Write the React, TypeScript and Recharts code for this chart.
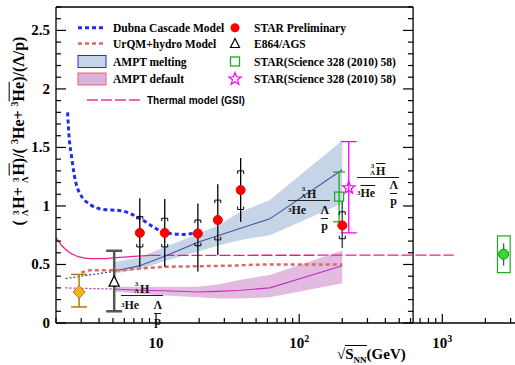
import React from "react";
import {
  Area,
  ComposedChart,
  ErrorBar,
  Line,
  ReferenceArea,
  ReferenceLine,
  Scatter,
  XAxis,
  YAxis,
} from "recharts";

const SERIF = "'Liberation Serif', 'Times New Roman', serif";
const SANS = "'Liberation Sans', Arial, sans-serif";

// axes
const xTicks = [2, 3, 4, 5, 6, 7, 8, 9, 10, 20, 30, 40, 50, 60, 70, 80, 90, 100, 200, 300, 400, 500, 600, 700, 800, 900, 1000, 2000, 3000];
const yTicks = [0, 0.1, 0.2, 0.3, 0.4, 0.5, 0.6, 0.7, 0.8, 0.9, 1, 1.1, 1.2, 1.3, 1.4, 1.5, 1.6, 1.7, 1.8, 1.9, 2, 2.1, 2.2, 2.3, 2.4, 2.5, 2.6, 2.7];
const frameEdge = 625; // inner frame right edge (GeV)

// Dubna cascade model
const dubnaX = [2.41, 2.48, 2.55, 2.67, 2.8, 2.96, 3.48, 4.3, 5.65, 7.8, 9.6, 11.6, 15.6, 18.3];
const dubnaY = [1.8, 1.56, 1.45, 1.28, 1.165, 1.1, 1.01, 0.97, 0.96, 0.89, 0.82, 0.77, 0.757, 0.765];

// UrQMD + hydro
const urqmdX = [3.0, 3.5, 5, 7.7, 11.5, 20, 33, 62.4, 200];
const urqmdY = [0.43, 0.45, 0.45, 0.465, 0.48, 0.485, 0.49, 0.5, 0.5];

// AMPT
const amptX = [5, 7.7, 11.5, 19.6, 27, 39, 62.4, 200];
const meltY = [0.44, 0.49, 0.57, 0.69, 0.745, 0.81, 0.89, 1.31];
const meltLo = [0.42, 0.46, 0.53, 0.61, 0.66, 0.71, 0.75, 1.02];
const meltHi = [0.52, 0.56, 0.65, 0.76, 0.83, 0.95, 1.05, 1.56];
const defY = [0.29, 0.28, 0.275, 0.265, 0.27, 0.28, 0.3, 0.49];
const defLo = [0.27, 0.25, 0.235, 0.22, 0.21, 0.21, 0.22, 0.34];
const defHi = [0.31, 0.31, 0.31, 0.31, 0.33, 0.37, 0.41, 0.62];
const extX = [2.33, 5];
const meltExtY = [0.38, 0.44];
const defExtY = [0.3, 0.29];

// thermal model (GSI)
const thermSolidX = [2.0, 2.2, 2.5, 2.9, 3.5, 4.3, 5.5, 7, 9];
const thermSolidY = [0.73, 0.66, 0.6, 0.565, 0.55, 0.55, 0.56, 0.57, 0.578];
const thermDashX = [9, 1200];
const thermDashY = [0.578, 0.58];

// STAR preliminary
const prelimX = [7.7, 11.5, 19.6, 27, 39];
const prelimY = [0.77, 0.77, 0.765, 0.88, 1.136];
const prelimLo = [0.48, 0.48, 0.44, 0.58, 0.865];
const prelimHi = [1.065, 1.06, 1.02, 1.185, 1.41];
const prelimSysLo = [0.65, 0.65, 0.66, 0.71, 0.97];
const prelimSysHi = [0.91, 0.895, 0.88, 1.05, 1.3];
const p200X = [200];
const p200Y = [0.834];
const p200Lo = [0.64];
const p200Hi = [1.04];
const p200SysLo = [0.72];
const p200SysHi = [0.95];

// E864/AGS
const e864X = [5.1];
const e864Y = [0.35];
const e864Lo = [0.1];
const e864Hi = [0.617];

// diamond point
const diaX = [2.9];
const diaY = [0.265];
const diaLo = [0.137];
const diaHi = [0.415];

// STAR Science 328 (2010) 58
const sciSqX = [190];
const sciSqY = [1.08];
const sciSqLo = [0.865];
const sciSqHi = [1.29];
const sciStarX = [222];
const sciStarY = [1.155];
const sciStarLo = [0.77];
const sciStarHi = [1.55];

// green point at high energy
const lhcX = [2680];
const lhcY = [0.588];
const lhcLo = [0.49];
const lhcHi = [0.68];
const lhcSysX = [2430, 2980];
const lhcSysY = [0.43, 0.745];

const pts = (xs: number[], ys: number[]) => xs.map((x, i) => ({ x, y: ys[i] }));
const errPts = (xs: number[], ys: number[], lo: number[], hi: number[]) =>
  xs.map((x, i) => ({ x, y: ys[i], err: [ys[i] - lo[i], hi[i] - ys[i]] }));
const band = (xs: number[], lo: number[], hi: number[]) => xs.map((x, i) => ({ x, range: [lo[i], hi[i]] }));

const starPath = (cx: number, cy: number, R: number, r: number) => {
  let d = "";
  for (let i = 0; i < 10; i++) {
    const a = -Math.PI / 2 + (i * Math.PI) / 5;
    const rr = i % 2 === 0 ? R : r;
    d += (i === 0 ? "M" : "L") + (cx + rr * Math.cos(a)).toFixed(2) + "," + (cy + rr * Math.sin(a)).toFixed(2);
  }
  return d + "Z";
};

const redDot = (p: any) => <circle cx={p.cx} cy={p.cy} r={4.5} fill="#ff0000" stroke="#ee0000" />;
const greenDot = (p: any) => <circle cx={p.cx} cy={p.cy} r={5} fill="#33dd33" stroke="#118811" />;
const triangle = (p: any) => (
  <path d={`M${p.cx},${p.cy - 6}L${p.cx + 5},${p.cy + 4}L${p.cx - 5},${p.cy + 4}Z`} fill="#fff" stroke="#000" strokeWidth={1.3} />
);
const diamond = (p: any) => (
  <path d={`M${p.cx},${p.cy - 6.5}L${p.cx + 6},${p.cy}L${p.cx},${p.cy + 6.5}L${p.cx - 6},${p.cy}Z`} fill="#f4b414" stroke="#b07d12" strokeWidth={1} />
);
const square = (p: any) => <rect x={p.cx - 4.5} y={p.cy - 4.5} width={9} height={9} fill="none" stroke="#22aa22" strokeWidth={1.3} />;
const magStar = (p: any) => <path d={starPath(p.cx, p.cy, 6.5, 2.7)} fill="none" stroke="#ff00ff" strokeWidth={1.2} />;
const bracket = (up: boolean) => (p: any) => {
  const { cx, cy } = p;
  const d = up ? `M${cx - 3},${cy + 3}V${cy}H${cx + 3}V${cy + 3}` : `M${cx - 3},${cy - 3}V${cy}H${cx + 3}V${cy - 3}`;
  return <path d={d} fill="none" stroke="#000" strokeWidth={1} />;
};

const isMajorX = (v: number) => v === 10 || v === 100 || v === 1000;

const XTick = (props: any) => {
  const { x, y, payload } = props;
  const v = payload.value;
  const major = isMajorX(v);
  return (
    <g>
      <line x1={x} x2={x} y1={y} y2={y - (major ? 9 : 5)} stroke="#000" strokeWidth={1.2} />
      {major && (
        <text x={x} y={y + 25} textAnchor="middle" fontFamily={SERIF} fontWeight="bold" fontSize={15} fill="#000">
          10
          {v > 10 && (
            <tspan dy={-6} fontSize={10}>
              {v === 100 ? "2" : "3"}
            </tspan>
          )}
        </text>
      )}
    </g>
  );
};

const TopTick = (props: any) => {
  const { x, y, payload } = props;
  const v = payload.value;
  return <line x1={x} x2={x} y1={y} y2={y + (isMajorX(v) ? 9 : 5)} stroke="#000" strokeWidth={1.2} />;
};

const isMajorY = (v: number) => Math.abs(v * 2 - Math.round(v * 2)) < 1e-6;

const YTick = (props: any) => {
  const { x, y, payload } = props;
  const v = payload.value;
  const major = isMajorY(v);
  return (
    <g>
      <line x1={x} x2={x + (major ? 10 : 5)} y1={y} y2={y} stroke="#000" strokeWidth={1.2} />
      {major && v < 2.6 && (
        <text x={x - 6} y={y + 5} textAnchor="end" fontFamily={SERIF} fontWeight="bold" fontSize={15} fill="#000">
          {String(v)}
        </text>
      )}
    </g>
  );
};

const ov = (on: boolean) => (on ? { textDecoration: "overline" } : {});

const Pre = ({ fs = 7 }: { fs?: number }) => (
  <span
    style={{
      display: "inline-flex",
      flexDirection: "column",
      alignItems: "center",
      fontSize: fs,
      lineHeight: `${fs}px`,
      marginRight: 1,
      verticalAlign: "middle",
    }}
  >
    <span>3</span>
    <span>Λ</span>
  </span>
);

const Frac = ({ left, top, anti }: { left: number; top: number; anti: boolean }) => (
  <div style={{ position: "absolute", left, top: top - 15, width: 42, font: `bold 12px ${SERIF}`, lineHeight: "12px", color: "#111" }}>
    <div style={{ paddingLeft: 13, height: 14, display: "flex", alignItems: "flex-end" }}>
      <Pre />
      <span style={ov(anti)}>H</span>
    </div>
    <div style={{ borderTop: "1.3px solid #222" }} />
    <div style={{ display: "flex", justifyContent: "space-between", marginTop: anti ? 1 : 3 }}>
      <span style={{ marginTop: anti ? 8 : 0 }}>
        <span style={{ fontSize: 7, verticalAlign: "top" }}>3</span>
        <span style={ov(anti)}>He</span>
      </span>
      <span style={{ display: "inline-flex", flexDirection: "column", alignItems: "center", marginRight: 1 }}>
        <span style={ov(anti)}>Λ</span>
        <span style={{ borderTop: "1px solid #222", marginTop: 2, paddingTop: 1 }}>
          <span style={ov(anti)}>p</span>
        </span>
      </span>
    </div>
  </div>
);

const Legend = () => (
  <svg width={515} height={365} style={{ position: "absolute", left: 0, top: 0, pointerEvents: "none" }}>
    <g fontFamily={SERIF} fontWeight="bold" fontSize={11.5} fill="#000">
      <line x1={78} x2={105} y1={27.7} y2={27.7} stroke="#1f2cf5" strokeWidth={3} strokeDasharray="4 3" />
      <text x={113} y={31.7}>Dubna Cascade Model</text>
      <line x1={78} x2={105} y1={43.5} y2={43.5} stroke="#d96a6a" strokeWidth={2.5} strokeDasharray="4 3" />
      <text x={113} y={47.5}>UrQM+hydro Model</text>
      <rect x={78} y={55.5} width={28} height={12} fill="#c5d4e6" stroke="#2233dd" />
      <text x={113} y={65.5}>AMPT melting</text>
      <rect x={78} y={73} width={28} height={12} fill="#dcb3dc" stroke="#e06a6a" />
      <text x={113} y={83}>AMPT default</text>
      <circle cx={235} cy={27.7} r={4.5} fill="#ff0000" />
      <text x={254} y={31.7}>STAR Preliminary</text>
      <path d="M235,38.5L239.5,47.5L230.5,47.5Z" fill="#fff" stroke="#000" strokeWidth={1.2} />
      <text x={254} y={47.5}>E864/AGS</text>
      <rect x={230.5} y={57} width={9} height={9} fill="none" stroke="#22aa22" strokeWidth={1.3} />
      <text x={254} y={65.5}>STAR(Science 328 (2010) 58)</text>
      <path d={starPath(235, 79, 6.5, 2.7)} fill="none" stroke="#ff00ff" strokeWidth={1.2} />
      <text x={254} y={83}>STAR(Science 328 (2010) 58)</text>
    </g>
    <line x1={87} x2={143} y1={100} y2={100} stroke="#ee3399" strokeWidth={1.3} strokeDasharray="11 3" />
    <text x={147} y={103.5} fontFamily={SANS} fontWeight="bold" fontSize={10} fill="#000">
      Thermal model (GSI)
    </text>
  </svg>
);

export default function App() {
  return (
    <div style={{ position: "absolute", left: 0, top: 0, width: 515, height: 365, background: "#fff" }}>
      <ComposedChart width={515} height={365} margin={{ top: 7, right: 0, bottom: 0, left: 0 }}>
        <XAxis
          xAxisId={0}
          dataKey="x"
          type="number"
          scale="log"
          domain={[2, 3220]}
          allowDataOverflow
          ticks={xTicks}
          interval={0}
          tick={XTick}
          tickLine={false}
          tickSize={0}
          tickMargin={0}
          height={42}
          axisLine={{ stroke: "#000", strokeWidth: 1.3 }}
        />
        <XAxis
          xAxisId="top"
          orientation="top"
          dataKey="x"
          type="number"
          scale="log"
          domain={[2, 3220]}
          allowDataOverflow
          ticks={xTicks.filter((v) => v <= frameEdge)}
          interval={0}
          tick={TopTick}
          tickLine={false}
          tickSize={0}
          tickMargin={0}
          height={0}
          axisLine={false}
        />
        <YAxis
          type="number"
          domain={[0, 2.7]}
          allowDataOverflow
          ticks={yTicks}
          interval={0}
          tick={YTick}
          tickLine={false}
          tickSize={0}
          tickMargin={0}
          width={56}
          axisLine={{ stroke: "#000", strokeWidth: 1.3 }}
        />

        <ReferenceLine x={frameEdge} stroke="#000" strokeWidth={1.3} ifOverflow="visible" />
        <ReferenceLine segment={[{ x: 2, y: 2.7 }, { x: frameEdge, y: 2.7 }]} stroke="#000" strokeWidth={1.3} ifOverflow="visible" />
        {yTicks.map((v) => (
          <ReferenceLine
            key={"rt" + v}
            segment={[{ x: frameEdge * (isMajorY(v) ? 0.85 : 0.92), y: v }, { x: frameEdge, y: v }]}
            stroke="#000"
            strokeWidth={1.2}
            ifOverflow="visible"
          />
        ))}

        <Area data={band(amptX, meltLo, meltHi)} dataKey="range" type="linear" fill="#c5d4e6" fillOpacity={1} stroke="none" isAnimationActive={false} />
        <Area data={band(amptX, defLo, defHi)} dataKey="range" type="linear" fill="#e3bbe0" fillOpacity={1} stroke="none" isAnimationActive={false} />

        <Line data={pts(thermSolidX, thermSolidY)} dataKey="y" type="monotone" stroke="#ee2090" strokeWidth={1.2} dot={false} activeDot={false} isAnimationActive={false} />
        <Line data={pts(thermDashX, thermDashY)} dataKey="y" type="linear" stroke="#ee1a8c" strokeWidth={1.3} strokeDasharray="11 3" dot={false} activeDot={false} isAnimationActive={false} />
        <Line data={pts(amptX, meltY)} dataKey="y" type="linear" stroke="#5050a0" strokeWidth={1.1} dot={false} activeDot={false} isAnimationActive={false} />
        <Line data={pts(extX, meltExtY)} dataKey="y" type="linear" stroke="#5050a0" strokeWidth={1.3} strokeDasharray="2 2" dot={false} activeDot={false} isAnimationActive={false} />
        <Line data={pts(amptX, defY)} dataKey="y" type="linear" stroke="#c030c0" strokeWidth={1.1} dot={false} activeDot={false} isAnimationActive={false} />
        <Line data={pts(extX, defExtY)} dataKey="y" type="linear" stroke="#c030c0" strokeWidth={1.3} strokeDasharray="2 2" dot={false} activeDot={false} isAnimationActive={false} />
        <Line data={pts(urqmdX, urqmdY)} dataKey="y" type="monotone" stroke="#d96a6a" strokeWidth={2.5} strokeDasharray="4 3" dot={false} activeDot={false} isAnimationActive={false} />
        <Line data={pts(dubnaX, dubnaY)} dataKey="y" type="monotone" stroke="#1f2cf5" strokeWidth={3} strokeDasharray="4 3" dot={false} activeDot={false} isAnimationActive={false} />

        <ReferenceArea x1={lhcSysX[0]} x2={lhcSysX[1]} y1={lhcSysY[0]} y2={lhcSysY[1]} fill="none" stroke="#22aa22" strokeWidth={1.2} ifOverflow="visible" />

        <Scatter data={errPts(diaX, diaY, diaLo, diaHi)} dataKey="y" shape={diamond} isAnimationActive={false}>
          <ErrorBar dataKey="err" direction="y" width={8} stroke="#b07d12" strokeWidth={1.5} />
        </Scatter>
        <Scatter data={errPts(e864X, e864Y, e864Lo, e864Hi)} dataKey="y" shape={triangle} isAnimationActive={false}>
          <ErrorBar dataKey="err" direction="y" width={8} stroke="#555" strokeWidth={2.5} />
        </Scatter>
        <Scatter data={errPts(sciStarX, sciStarY, sciStarLo, sciStarHi)} dataKey="y" shape={magStar} isAnimationActive={false}>
          <ErrorBar dataKey="err" direction="y" width={8} stroke="#ff00ff" strokeWidth={1.3} />
        </Scatter>
        <Scatter data={errPts(p200X, p200Y, p200Lo, p200Hi)} dataKey="y" shape={redDot} isAnimationActive={false}>
          <ErrorBar dataKey="err" direction="y" width={0} stroke="#555" strokeWidth={1.6} />
        </Scatter>
        <Scatter data={pts(p200X, p200SysHi)} dataKey="y" shape={bracket(true)} isAnimationActive={false} />
        <Scatter data={pts(p200X, p200SysLo)} dataKey="y" shape={bracket(false)} isAnimationActive={false} />
        <Scatter data={errPts(sciSqX, sciSqY, sciSqLo, sciSqHi)} dataKey="y" shape={square} isAnimationActive={false}>
          <ErrorBar dataKey="err" direction="y" width={6} stroke="#22aa22" strokeWidth={1.3} />
        </Scatter>
        <Scatter data={pts(prelimX, prelimSysHi)} dataKey="y" shape={bracket(true)} isAnimationActive={false} />
        <Scatter data={pts(prelimX, prelimSysLo)} dataKey="y" shape={bracket(false)} isAnimationActive={false} />
        <Scatter data={errPts(prelimX, prelimY, prelimLo, prelimHi)} dataKey="y" shape={redDot} isAnimationActive={false}>
          <ErrorBar dataKey="err" direction="y" width={0} stroke="#000" strokeWidth={1.3} />
        </Scatter>
        <Scatter data={errPts(lhcX, lhcY, lhcLo, lhcHi)} dataKey="y" shape={greenDot} isAnimationActive={false}>
          <ErrorBar dataKey="err" direction="y" width={0} stroke="#118811" strokeWidth={1.3} />
        </Scatter>
      </ComposedChart>

      <Legend />

      <Frac left={121} top={296} anti={false} />
      <Frac left={288} top={201} anti={false} />
      <Frac left={357} top={178} anti={true} />

      <div
        style={{
          position: "absolute",
          left: 19,
          top: 131,
          transform: "translate(-50%,-50%) rotate(-90deg)",
          whiteSpace: "nowrap",
          font: `bold 16px ${SERIF}`,
          color: "#000",
        }}
      >
        ( <Pre fs={9} />H+ <Pre fs={9} />
        <span style={{ textDecoration: "overline" }}>H</span>)/( <sup style={{ fontSize: 10 }}>3</sup>He+ <sup style={{ fontSize: 10 }}>3</sup>
        <span style={{ textDecoration: "overline" }}>He</span>)/(Λ/p)
      </div>

      <div style={{ position: "absolute", left: 337, top: 345, font: `bold 15px ${SERIF}`, color: "#000", whiteSpace: "nowrap", lineHeight: "18px" }}>
        √
        <span style={{ borderTop: "1px solid #000" }}>
          S<sub style={{ fontSize: 9 }}>NN</sub>
        </span>
        (GeV)
      </div>
    </div>
  );
}
